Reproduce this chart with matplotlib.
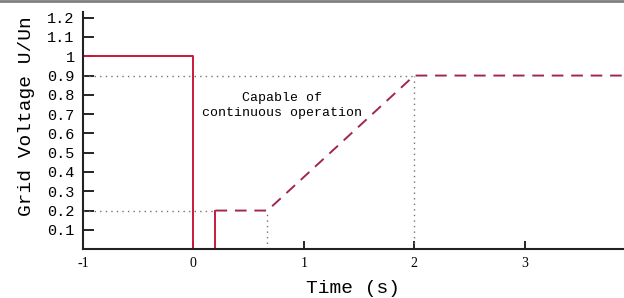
import matplotlib.pyplot as plt
import numpy as np

# solid part (trip region boundary)
t_solid = [-1, 0, 0, 0.2, 0.2]
u_solid = [1, 1, 0, 0, 0.2]

# dashed part (continuous operation boundary)
t_dash = [0.2, 0.67, 2, 3.95]
u_dash = [0.2, 0.2, 0.9, 0.9]

# dotted guides
guide_h = [(-1, 2, 0.9), (-1, 0.2, 0.2)]
guide_v = [(2, 0, 0.9), (0.67, 0, 0.2)]

yticks = [0.1, 0.2, 0.3, 0.4, 0.5, 0.6, 0.7, 0.8, 0.9, 1, 1.1, 1.2]
ytick_labels = ["0.1", "0.2", "0.3", "0.4", "0.5", "0.6", "0.7", "0.8", "0.9", "1", "1.1", "1.2"]
xticks = [-1, 0, 1, 2, 3]

font = "Liberation Mono"
plt.rcParams['font.family'] = [font, 'DejaVu Serif']

fig = plt.figure(figsize=(6.24, 2.98), dpi=100)
ax = fig.add_axes([0.133, 0.164, 0.867, 0.796])

for x0, x1, y in guide_h:
    ax.plot([x0, x1], [y, y], color="0.45", lw=1.0, ls=(0, (1, 3)))
for x, y0, y1 in guide_v:
    ax.plot([x, x], [y0, y1], color="0.45", lw=1.0, ls=(0, (1, 3)))

ax.plot(t_solid, u_solid, color="#c8193c", lw=1.4, clip_on=False)
ax.plot(t_dash, u_dash, color="#a0284f", lw=1.4, ls=(0, (6, 4)))

ax.text(0.8, 0.745, "Capable of\ncontinuous operation", ha="center", va="center",
        fontsize=9.5, linespacing=1.3)

ax.set_xlim(-1, 3.9)
ax.set_ylim(0, 1.23)
ax.set_xticks(xticks)
ax.set_xticklabels(["-1", "0", "1", "2", "3"], fontsize=10, family=['Liberation Serif'])
ax.set_yticks(yticks)
ax.set_yticklabels(ytick_labels, fontsize=11, family=['Liberation Mono'])
ax.tick_params(axis="both", direction="in", length=8, width=1.2, pad=6)
ax.tick_params(axis="x", length=6)

for s in ["top", "right"]:
    ax.spines[s].set_visible(False)
for s in ["left", "bottom"]:
    ax.spines[s].set_linewidth(1.5)
    ax.spines[s].set_color("#222222")

ax.set_xlabel("Time (s)", fontsize=14)
ax.xaxis.set_label_coords(0.5, -0.13)
ax.set_ylabel("Grid Voltage U/Un", fontsize=14)
ax.yaxis.set_label_coords(-0.089, 0.56)

fig.add_artist(plt.Line2D([0, 1], [0.997, 0.997], color="0.5", lw=2))

fig.savefig("out.png", dpi=100)
